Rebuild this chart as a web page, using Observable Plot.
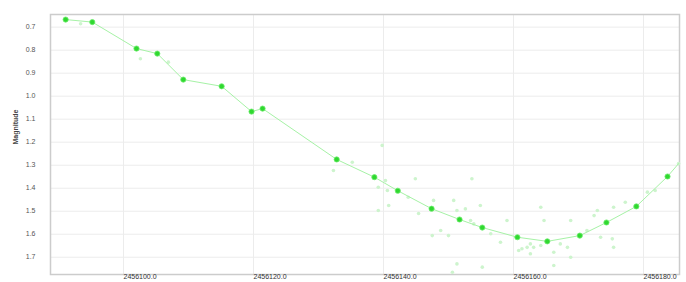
<!DOCTYPE html>
<html>
<head>
<meta charset="utf-8">
<script src="https://cdn.jsdelivr.net/npm/d3@7"></script>
<script src="https://cdn.jsdelivr.net/npm/@observablehq/plot@0.6"></script>
<style>
  html, body { margin: 0; padding: 0; background: #fff; }
  #chart svg { display: block; }
</style>
</head>
<body>
<div id="chart"></div>
<script>
// Main (binned) observations: Julian date and magnitude
const mainJD = [2456091.1, 2456095.2, 2456102.0, 2456105.2, 2456109.2, 2456115.1, 2456119.7, 2456121.4,
  2456132.8, 2456138.6, 2456142.2, 2456147.4, 2456151.7, 2456155.2, 2456160.6, 2456165.2,
  2456170.2, 2456174.3, 2456178.9, 2456183.7];
const mainMag = [0.667, 0.678, 0.793, 0.815, 0.928, 0.957, 1.067, 1.054,
  1.275, 1.352, 1.411, 1.489, 1.536, 1.571, 1.613, 1.631,
  1.606, 1.549, 1.479, 1.349];

// Individual (faint) observations
const rawJD = [2456093.4, 2456102.6, 2456106.9, 2456132.3, 2456135.2, 2456139.8, 2456140.3, 2456139.2,
  2456140.6, 2456144.9, 2456153.6, 2456143.8, 2456147.7, 2456139.2, 2456140.8, 2456145.4,
  2456150.8, 2456151.3, 2456152.6, 2456154.9, 2456153.4, 2456153.9, 2456147.5, 2456150.0,
  2456148.8, 2456156.5, 2456159.0, 2456158.0, 2456164.2, 2456164.7, 2456162.6, 2456163.1,
  2456164.2, 2456167.2, 2456168.3, 2456161.3, 2456162.6, 2456166.2, 2456168.8, 2456172.4,
  2456172.9, 2456175.4, 2456177.2, 2456180.6, 2456181.8, 2456171.3, 2456173.4, 2456175.2,
  2456175.4, 2456185.4, 2456168.8, 2456151.3, 2456155.2, 2456150.6, 2456166.2, 2456160.8,
  2456162.1];
const rawMag = [0.685, 0.837, 0.852, 1.323, 1.287, 1.214, 1.367, 1.396,
  1.410, 1.359, 1.359, 1.439, 1.453, 1.497, 1.475, 1.510,
  1.453, 1.497, 1.490, 1.475, 1.540, 1.555, 1.606, 1.606,
  1.584, 1.598, 1.540, 1.635, 1.483, 1.540, 1.642, 1.657,
  1.649, 1.642, 1.657, 1.663, 1.685, 1.678, 1.540, 1.519,
  1.497, 1.483, 1.461, 1.417, 1.410, 1.584, 1.613, 1.620,
  1.657, 1.293, 1.700, 1.729, 1.743, 1.765, 1.736, 1.671,
  1.657];

// Axis ticks
const yTicks = [0.7, 0.8, 0.9, 1.0, 1.1, 1.2, 1.3, 1.4, 1.5, 1.6, 1.7];
const xTicks = [2456100, 2456120, 2456140, 2456160, 2456180];
const xTickLabels = ["2456100.0", "2456120.0", "2456140.0", "2456160.0", "2456180.0"];

const main = mainJD.map((jd, i) => ({jd, mag: mainMag[i]}));
const raw = rawJD.map((jd, i) => ({jd, mag: rawMag[i]}));
const lineData = main.concat([raw[raw.length - 8]]);

const chart = Plot.plot({
  width: 686,
  height: 282,
  marginLeft: 50,
  marginRight: 7,
  marginTop: 14,
  marginBottom: 8,
  style: {fontFamily: "Liberation Sans, Arial, sans-serif", fontSize: "7px", color: "#555", background: "#fff"},
  x: {domain: [2456088.77, 2456185.54]},
  y: {domain: [0.645, 1.775], reverse: true},
  marks: [
    Plot.ruleY(yTicks, {stroke: "#ececec", strokeWidth: 1}),
    Plot.ruleX(xTicks, {stroke: "#ececec", strokeWidth: 1}),
    Plot.frame({stroke: "#cccccc", strokeWidth: 1.5}),
    Plot.axisY({ticks: yTicks, tickFormat: d3.format(".1f"), tickSize: 0, tickPadding: 15, fontSize: 7, label: null}),
    Plot.axisX({ticks: xTicks, tickFormat: (d, i) => xTickLabels[i], tickSize: 0, tickPadding: 0, textAnchor: "start", fontSize: 7, fill: "#333", label: null}),
    Plot.text(["Magnitude"], {frameAnchor: "left", dx: -35, rotate: -90, fontSize: 7, fontWeight: "bold", fill: "#444"}),
    Plot.dot(raw, {x: "jd", y: "mag", r: 1.8, fill: "#cdf4cd", stroke: "none"}),
    Plot.line(lineData, {x: "jd", y: "mag", stroke: "#a6f2a6", strokeWidth: 1}),
    Plot.dot(main, {x: "jd", y: "mag", r: 2.6, fill: "#30d830", stroke: "#6cec6c", strokeWidth: 0.8})
  ]
});
document.getElementById("chart").appendChild(chart);
</script>
</body>
</html>
